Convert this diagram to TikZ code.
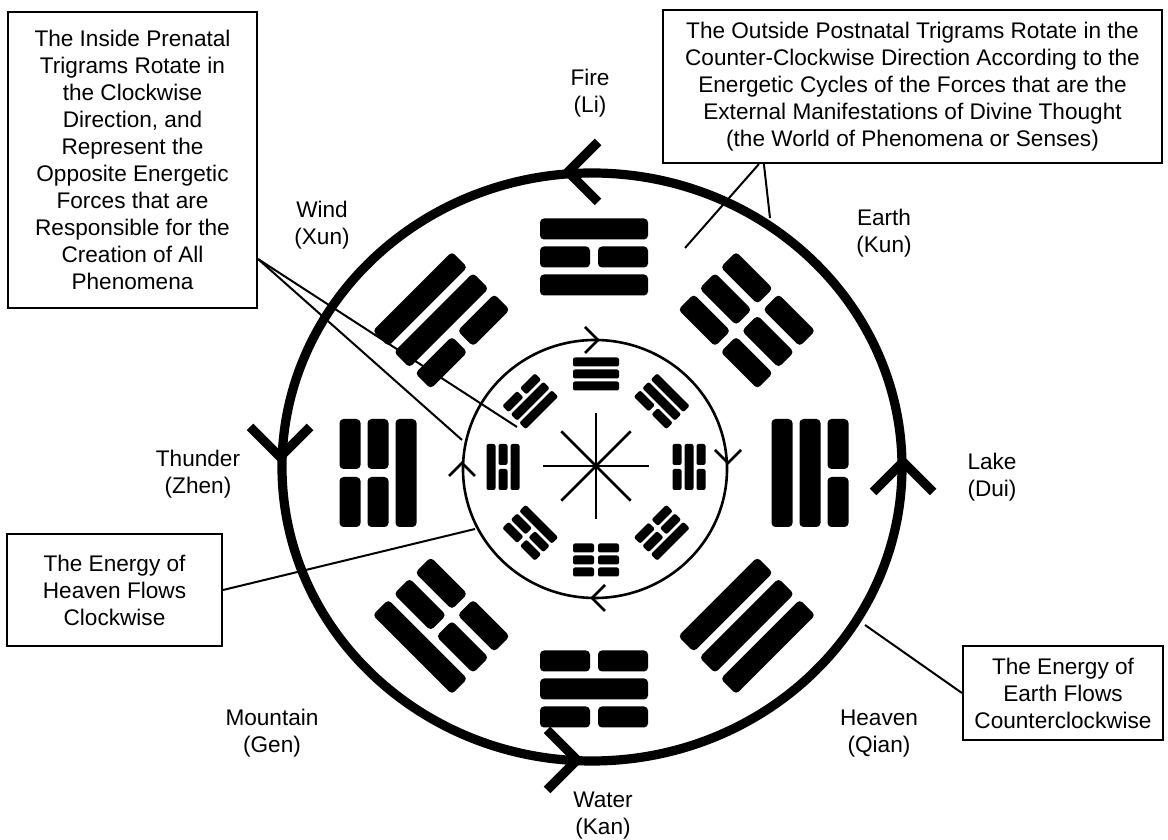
\documentclass[tikz,border=0pt]{standalone}
\usepackage{fontspec}
\setmainfont{Liberation Sans}
\usetikzlibrary{calc}

% trigram geometry: bar length, bar thickness, bar pitch, break gap, corner, ring radius
\newcommand\TL{108}
\newcommand\TT{21}
\newcommand\TP{28}
\newcommand\TG{8}
\newcommand\TR{2pt}
\newcommand\TRAD{216}

% one bar of a trigram at radial offset #1; #2 = 1 solid (yang), 0 broken (yin)
\newcommand\trigbar[2]{%
  \ifnum#2=1
    \fill[rounded corners=\TR] ({-\TL/2},{#1-\TT/2}) rectangle ({\TL/2},{#1+\TT/2});
  \else
    \fill[rounded corners=\TR] ({-\TL/2},{#1-\TT/2}) rectangle ({-\TG/2},{#1+\TT/2});
    \fill[rounded corners=\TR] ({\TG/2},{#1-\TT/2}) rectangle ({\TL/2},{#1+\TT/2});
  \fi}

% trigram on a ring: #1 ring centre, #2 outward angle, #3 #4 #5 = lines 1 (inner) to 3 (outer)
\newcommand\trigram[5]{%
  \begin{scope}[shift={#1}, rotate={#2-90}]
    \trigbar{\TRAD-\TP}{#3}\trigbar{\TRAD}{#4}\trigbar{\TRAD+\TP}{#5}
  \end{scope}}

% open chevron: #1 tip, #2 direction of travel, #3 arm offset, #4 style
\newcommand\chevron[4]{%
  \draw[#4, shift={#1}, rotate=#2] (-#3,#3) -- (0,0) -- (-#3,-#3);}

\begin{document}
\begin{tikzpicture}[x=0.5pt, y=0.5pt,
  txt/.style={font={\fontsize{11.3pt}{13.5pt}\selectfont}, align=center, inner sep=0pt},
  note/.style={txt, draw, line width=1.1pt, fill=white},
  leader/.style={line width=1pt},
  bigchev/.style={line width=4.6pt, line join=miter, line cap=butt},
  smallchev/.style={line width=1.3pt, line join=miter},
  thin/.style={line width=1.3pt}]

\useasboundingbox (0,0) rectangle (1168,840);
\fill[white] (0,0) rectangle (1168,840);

% outer (counter-clockwise) ring
\draw[line width=4.6pt] (592,373) ellipse [x radius=310, y radius=294];
\chevron{(568,668)}{180}{30}{bigchev}
\chevron{(280,383)}{270}{30}{bigchev}
\chevron{(577,80)}{0}{30}{bigchev}
\chevron{(903,378)}{90}{30}{bigchev}

% inner (clockwise) ring
\draw[thin] (595,371) ellipse [x radius=132, y radius=129];
\chevron{(598,500)}{0}{13}{smallchev}
\chevron{(728,377)}{270}{13}{smallchev}
\chevron{(592,242)}{180}{13}{smallchev}
\chevron{(462,377)}{90}{13}{smallchev}

% central eight-pointed star
\coordinate (hub) at (596,374);
\foreach \a in {0,90} \draw[thin] ($(hub)+(\a:53)$) -- ($(hub)+(\a+180:53)$);
\foreach \a in {45,135} \draw[thin] ($(hub)+(\a:49)$) -- ($(hub)+(\a+180:49)$);

% postnatal (King Wen) trigrams, cardinal positions
\trigram{(594,367)}{90}{1}{0}{1}
\trigram{(594,367)}{0}{1}{1}{0}
\trigram{(594,367)}{-90}{0}{1}{0}
\trigram{(594,367)}{180}{1}{0}{0}
% diagonal positions are drawn a little larger
\renewcommand\TL{112}
\renewcommand\TP{30}
\renewcommand\TT{22}
\trigram{(594,367)}{45}{0}{0}{0}
\trigram{(594,367)}{-45}{1}{1}{1}
\trigram{(594,367)}{-135}{0}{0}{1}
\trigram{(594,367)}{135}{0}{1}{1}

% prenatal (Fu Xi) trigrams
\renewcommand\TL{46}
\renewcommand\TT{9}
\renewcommand\TP{12}
\renewcommand\TG{4}
\renewcommand\TR{1pt}
\renewcommand\TRAD{93}
\trigram{(596,373)}{90}{1}{1}{1}
\trigram{(596,373)}{45}{0}{1}{1}
\trigram{(596,373)}{0}{0}{1}{0}
\trigram{(596,373)}{-45}{0}{0}{1}
\trigram{(596,373)}{-90}{0}{0}{0}
\trigram{(596,373)}{-135}{1}{0}{0}
\trigram{(596,373)}{180}{1}{0}{1}
\trigram{(596,373)}{135}{1}{1}{0}

% trigram names
\node[txt] (fire)     at (590,747) {Fire\\(Li)};
\node[txt] (earth)    at (884,607) {Earth\\(Kun)};
\node[txt] (lake)     at (992,363) {Lake\\(Dui)};
\node[txt] (heaven)   at (879,106) {Heaven\\(Qian)};
\node[txt] (water)    at (603,24)  {Water\\(Kan)};
\node[txt] (mountain) at (272,107) {Mountain\\(Gen)};
\node[txt] (thunder)  at (198,366) {Thunder\\(Zhen)};
\node[txt] (wind)     at (322,615) {Wind\\(Xun)};

% explanatory notes
\node[note, minimum width=124.5pt, minimum height=148pt] (tlbox) at (132.5,680)
  {The Inside Prenatal\\Trigrams Rotate in\\the Clockwise\\Direction, and\\Represent the\\Opposite Energetic\\Forces that are\\Responsible for the\\Creation of All\\Phenomena};
\node[note, minimum width=249.5pt, minimum height=76.5pt] (trbox) at (912.5,753.5)
  {The Outside Postnatal Trigrams Rotate in the\\Counter-Clockwise Direction According to the\\Energetic Cycles of the Forces that are the\\External Manifestations of Divine Thought\\(the World of Phenomena or Senses)};
\node[note, minimum width=107.5pt, minimum height=56pt] (lbox) at (114.5,250)
  {The Energy of\\Heaven Flows\\Clockwise};
\node[note, minimum width=100pt, minimum height=47pt] (rbox) at (1063,147)
  {The Energy of\\Earth Flows\\Counterclockwise};

% leader lines
\coordinate (tlfoot) at ($(tlbox.south east)+(0,50)$);
\coordinate (tlA) at (517,413);
\coordinate (tlB) at (462,400);
\draw[leader] (tlfoot) -- (tlA);
\draw[leader] (tlfoot) -- (tlB);

\coordinate (trfootA) at ($(trbox.south west)+(97,0)$);
\coordinate (trfootB) at ($(trbox.south west)+(102,0)$);
\coordinate (trA) at (685,592);
\coordinate (trB) at (770,622);
\draw[leader] (trfootA) -- (trA);
\draw[leader] (trfootB) -- (trB);

\coordinate (lend) at (475,311);
\draw[leader] (lbox.east) -- (lend);

\coordinate (rend) at (865,215);
\draw[leader] (rbox.west) -- (rend);
\end{tikzpicture}
\end{document}
